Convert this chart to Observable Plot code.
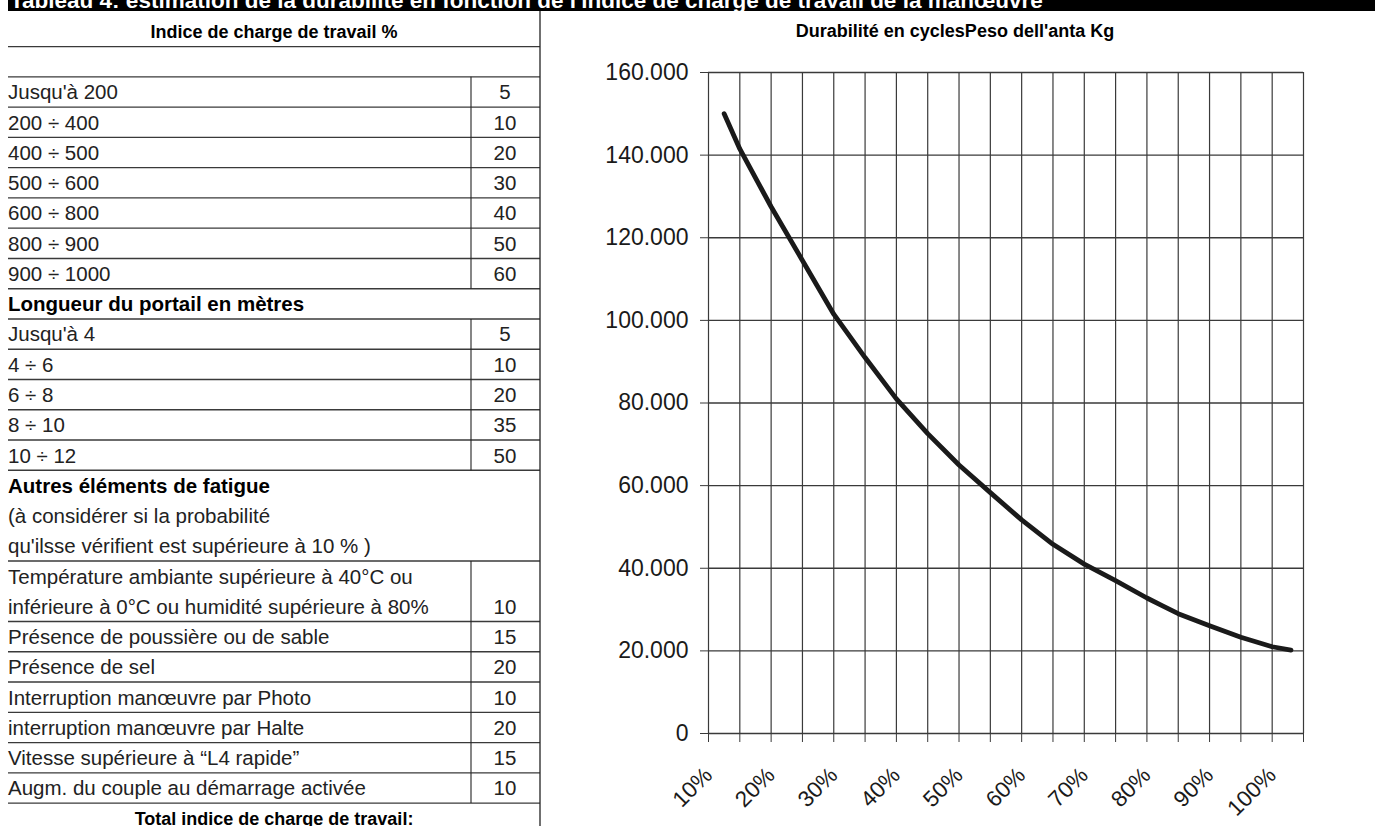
<!DOCTYPE html>
<html>
<head>
<meta charset="utf-8">
<script src="https://cdn.jsdelivr.net/npm/d3@7"></script>
<script src="https://cdn.jsdelivr.net/npm/@observablehq/plot@0.6"></script>
<style>
  html, body { margin: 0; padding: 0; background: #fff; }
  body { width: 1375px; height: 826px; overflow: hidden; position: relative;
         font-family: "Liberation Sans", Arial, Helvetica, sans-serif; color: #1a1a1a; }
  #bar { position: absolute; left: 8px; top: 0; width: 1367px; height: 11px; background: #000; overflow: hidden; }
  #bar span { position: absolute; left: 2px; top: -12px; color: #fff; font-weight: bold; font-size: 22.5px; white-space: nowrap; }
  #table { position: absolute; left: 0; top: 0; }
  #chart { position: absolute; left: 560px; top: 0; }
  #ctitle { position: absolute; left: 560px; width: 790px; top: 21px; text-align: center;
            font-weight: bold; font-size: 18px; white-space: nowrap; color: #000; }
</style>
</head>
<body>
<div id="bar"><span id="bartext"></span></div>
<div id="ctitle"></div>
<div id="table"></div>
<div id="chart"></div>
<script>
// ---------- data ----------
const pageTitle = "Tableau 4: estimation de la durabilité en fonction de l'indice de charge de travail de la manœuvre";
const tableHeader = "Indice de charge de travail %";
const loadLabels = ["Jusqu'à 200", "200 ÷ 400", "400 ÷ 500", "500 ÷ 600", "600 ÷ 800", "800 ÷ 900", "900 ÷ 1000"];
const loadValues = [5, 10, 20, 30, 40, 50, 60];
const lengthTitle = "Longueur du portail en mètres";
const lengthLabels = ["Jusqu'à 4", "4 ÷ 6", "6 ÷ 8", "8 ÷ 10", "10 ÷ 12"];
const lengthValues = [5, 10, 20, 35, 50];
const fatigueTitle = "Autres éléments de fatigue";
const fatigueNote = ["(à considérer si la probabilité", "qu'ilsse vérifient est supérieure à 10 % )"];
const fatigueLabels = [
  ["Température ambiante supérieure à 40°C ou", "inférieure à 0°C ou humidité supérieure à 80%"],
  ["Présence de poussière ou de sable"],
  ["Présence de sel"],
  ["Interruption manœuvre par Photo"],
  ["interruption manœuvre par Halte"],
  ["Vitesse supérieure à “L4 rapide”"],
  ["Augm. du couple au démarrage activée"]
];
const fatigueValues = [10, 15, 20, 10, 20, 15, 10];
const totalLabel = "Total indice de charge de travail:";

const chartTitle = "Durabilité en cyclesPeso dell'anta Kg";
const workloadPct = [12.5, 15, 20, 25, 30, 35, 40, 45, 50, 55, 60, 65, 70, 75, 80, 82.5, 85, 90, 95, 100, 103];
const durabilityCycles = [150000, 141500, 127500, 114500, 101500, 91000, 81000, 72600, 65000, 58300, 51700, 45800, 41000, 37000, 32800, 30900, 29000, 26100, 23300, 21000, 20200];
const yTicks = [0, 20000, 40000, 60000, 80000, 100000, 120000, 140000, 160000];
const xLabelTicks = [10, 20, 30, 40, 50, 60, 70, 80, 90, 100];
const xGridTicks = [10, 15, 20, 25, 30, 35, 40, 45, 50, 55, 60, 65, 70, 75, 80, 85, 90, 95, 100, 105];

// ---------- header texts ----------
document.getElementById("bartext").textContent = pageTitle;
document.getElementById("ctitle").textContent = chartTitle;

// ---------- table ----------
const rows = [];
let slot = -2;
function add(o, n = 1) { o.slot = slot; o.n = n; rows.push(o); slot += n; }
add({lines: [tableHeader], bold: true, center: true, line: true, fs: 18});
add({lines: [""], line: true});
loadLabels.forEach((l, i) => add({lines: [l], value: loadValues[i], line: true, div: true}));
add({lines: [lengthTitle], bold: true, line: true, fs: 20.5});
lengthLabels.forEach((l, i) => add({lines: [l], value: lengthValues[i], line: true, div: true}));
add({lines: [fatigueTitle], bold: true, fs: 20.5});
fatigueNote.forEach((l, i) => add({lines: [l], line: i === fatigueNote.length - 1}));
fatigueLabels.forEach((ls, i) => add({lines: ls, value: fatigueValues[i], line: true, div: true}, ls.length));
add({lines: [totalLabel], bold: true, center: true, fs: 18});

const rowH = 30.26, y0 = 92, xL = 8, xR = 540, xDiv = 471, xVal = 505, fsReg = 20.5;
const cy = k => y0 + k * rowH;
const tsvg = d3.select("#table").append("svg").attr("width", 560).attr("height", 826)
  .style("font-family", "'Liberation Sans', Arial, Helvetica, sans-serif");
rows.forEach(r => {
  const top = cy(r.slot) - rowH / 2, bot = cy(r.slot + r.n - 1) + rowH / 2;
  r.lines.forEach((t, j) => {
    const fs = r.fs || fsReg;
    tsvg.append("text")
      .attr("x", r.center ? (xL + xR) / 2 : xL)
      .attr("y", cy(r.slot + j) + fs * 0.36)
      .attr("text-anchor", r.center ? "middle" : "start")
      .attr("font-size", fs)
      .attr("font-weight", r.bold ? "bold" : "normal")
      .attr("fill", r.bold ? "#000" : "#222")
      .text(t);
  });
  if (r.value != null) {
    tsvg.append("text").attr("x", xVal).attr("y", cy(r.slot + r.n - 1) + fsReg * 0.36)
      .attr("text-anchor", "middle").attr("font-size", fsReg).attr("fill", "#222").text(r.value);
  }
  if (r.line) {
    tsvg.append("line").attr("x1", xL).attr("x2", xR).attr("y1", bot).attr("y2", bot)
      .attr("stroke", "#3a3a3a").attr("stroke-width", 1.4);
  }
  if (r.div) {
    tsvg.append("line").attr("x1", xDiv).attr("x2", xDiv).attr("y1", top).attr("y2", bot)
      .attr("stroke", "#222").attr("stroke-width", 1.1);
  }
});
tsvg.append("line").attr("x1", xR).attr("x2", xR).attr("y1", 11).attr("y2", 826)
  .attr("stroke", "#222").attr("stroke-width", 1.3);

// ---------- chart ----------
const data = workloadPct.map((x, i) => ({x, y: durabilityCycles[i]}));
const fmtY = d => d === 0 ? "0" : d3.format(",")(d).replace(/,/g, ".");
const chart = Plot.plot({
  width: 815,
  height: 826,
  marginLeft: 148,
  marginRight: 72,
  marginTop: 72,
  marginBottom: 93,
  style: {fontFamily: "'Liberation Sans', Arial, Helvetica, sans-serif", fontSize: "22px", color: "#1a1a1a", background: "transparent", overflow: "visible"},
  x: {domain: [10, 105]},
  y: {domain: [0, 160000]},
  marks: [
    Plot.gridX(xGridTicks, {stroke: "#3a3a3a", strokeOpacity: 1, strokeWidth: 1.2}),
    Plot.gridY(yTicks, {stroke: "#3a3a3a", strokeOpacity: 1, strokeWidth: 1.3}),
    Plot.axisX(xGridTicks, {tickSize: 9, tickFormat: () => "", label: null, stroke: "#3a3a3a"}),
    Plot.axisX(xLabelTicks, {tickSize: 0, tickPadding: 38, tickRotate: -45, tickFormat: d => d + "%", label: null, fontSize: 22.5, fill: "#1a1a1a"}),
    Plot.axisY(yTicks, {tickSize: 8, tickPadding: 12, tickFormat: fmtY, label: null, fontSize: 23, stroke: "#3a3a3a", fill: "#1a1a1a"}),
    Plot.line(data, {x: "x", y: "y", stroke: "#1a1a1a", strokeWidth: 4.8, strokeLinejoin: "round"})
  ]
});
document.getElementById("chart").appendChild(chart);
</script>
</body>
</html>
